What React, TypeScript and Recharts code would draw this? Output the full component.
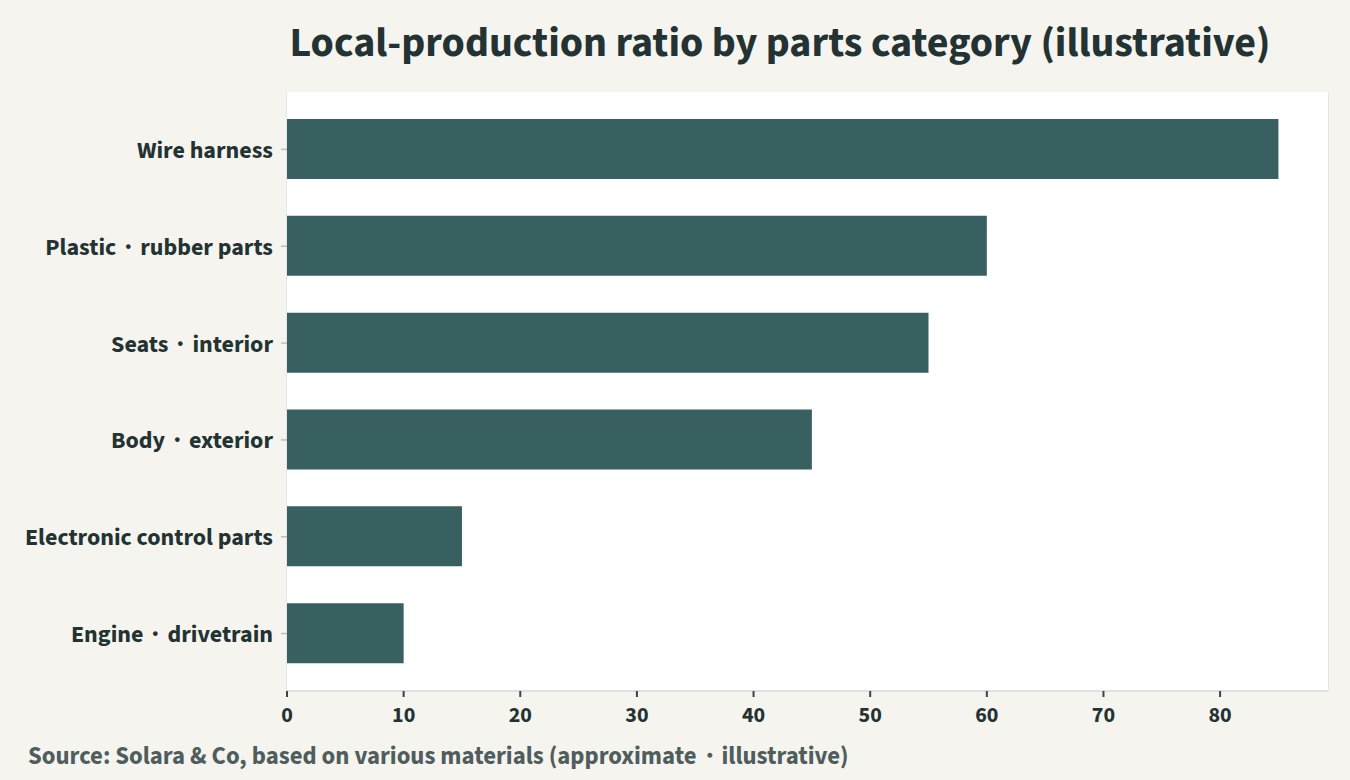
import React from "react";
import { BarChart, Bar, XAxis, YAxis, CartesianGrid } from "recharts";

const categories = [
  "Wire harness",
  "Plastic・rubber parts",
  "Seats・interior",
  "Body・exterior",
  "Electronic control parts",
  "Engine・drivetrain",
];
const ratios = [85, 60, 55, 45, 15, 10];
const xTicks = [0, 10, 20, 30, 40, 50, 60, 70, 80];

const data = categories.map((c, i) => ({ name: c, value: ratios[i] }));

const FONT = "'Source Sans Pro', 'Source Sans 3', Lato, 'Noto Sans', sans-serif";
const BG = "#f5f4ef";
const INK = "#233232";

export default function App() {
  return (
    <div
      style={{
        position: "absolute",
        left: 0,
        top: 0,
        width: 1350,
        height: 780,
        background: BG,
        fontFamily: FONT,
        overflow: "hidden",
      }}
    >
      <BarChart
        width={1350}
        height={780}
        data={data}
        layout="vertical"
        margin={{ top: 92, right: 22, bottom: 59, left: 0 }}
        barSize={60}
      >
        <rect x={287} y={92} width={1041} height={599} fill="#ffffff" />
        <CartesianGrid horizontal={false} stroke="#dde2e1" strokeWidth={1.5} />
        <XAxis
          type="number"
          domain={[0, 89.25]}
          ticks={xTicks}
          interval={0}
          height={30}
          axisLine={{ stroke: "#dde2e1", strokeWidth: 2 }}
          tickLine={{ stroke: "#3a4646", strokeWidth: 2 }}
          tickSize={6}
          tickMargin={9}
          tick={{ fill: INK, fontSize: 22, fontWeight: 700, fontFamily: FONT }}
        />
        <YAxis
          type="category"
          dataKey="name"
          width={287}
          padding={{ top: 9, bottom: 9 }}
          axisLine={false}
          tickLine={{ stroke: "#b8c0c0", strokeWidth: 1.5 }}
          tickSize={6}
          tickMargin={8}
          tick={{ fill: INK, fontSize: 24, fontWeight: 700, fontFamily: FONT }}
        />
        <Bar dataKey="value" fill="#386060" isAnimationActive={false} />
      </BarChart>
      <div
        style={{
          position: "absolute",
          left: 0,
          width: 1560,
          top: 13,
          textAlign: "center",
          fontSize: 42,
          fontWeight: 700,
          color: INK,
          whiteSpace: "nowrap",
        }}
      >
        Local-production ratio by parts category (illustrative)
      </div>
      <div
        style={{
          position: "absolute",
          left: 28,
          top: 739,
          fontSize: 24.75,
          fontWeight: 700,
          color: "#4f5d5d",
          whiteSpace: "nowrap",
        }}
      >
        Source: Solara &amp; Co, based on various materials (approximate・illustrative)
      </div>
    </div>
  );
}
